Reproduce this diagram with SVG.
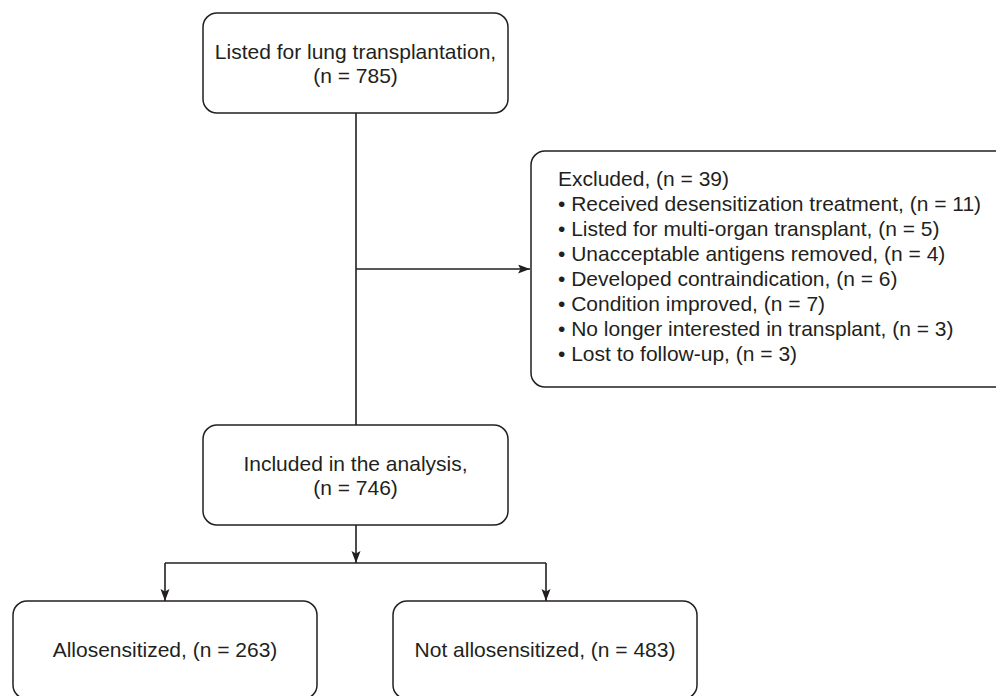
<svg xmlns="http://www.w3.org/2000/svg" width="996" height="696" viewBox="0 0 996 696">
<style>
.box{fill:#fff;stroke:#231f20;stroke-width:1.5}
.t{font-family:"Liberation Sans",Arial,sans-serif;font-size:21px;fill:#231f20}
.c{text-anchor:middle}
.ln{fill:none;stroke:#231f20;stroke-width:1.6}
</style>
<defs>
<marker id="ah" markerUnits="userSpaceOnUse" markerWidth="13" markerHeight="10" refX="12" refY="4.5" orient="auto">
<path d="M0,0 L12,4.5 L0,9 L2.5,4.5 z" fill="#231f20"/>
</marker>
</defs>
<rect width="996" height="696" fill="#fff"/>
<g id="connectors">
<line class="ln" x1="356" y1="113" x2="356" y2="425"/>
<line class="ln" x1="356" y1="269" x2="530" y2="269" marker-end="url(#ah)"/>
<line class="ln" x1="356" y1="525" x2="356" y2="563" marker-end="url(#ah)"/>
<line class="ln" x1="165" y1="563" x2="546" y2="563"/>
<line class="ln" x1="165" y1="563" x2="165" y2="601" marker-end="url(#ah)"/>
<line class="ln" x1="546" y1="563" x2="546" y2="601" marker-end="url(#ah)"/>
</g>
<g id="listed">
<rect class="box" x="203" y="13" width="305" height="100" rx="14"/>
<text class="t c" x="355.5" y="59">Listed for lung transplantation,</text>
<text class="t c" x="355.5" y="83">(n = 785)</text>
</g>
<g id="excluded">
<rect class="box" x="531" y="151" width="500" height="236" rx="14"/>
<text class="t" x="558" y="186">Excluded, (n = 39)</text>
<text class="t" x="558" y="211">• Received desensitization treatment, (n = 11)</text>
<text class="t" x="558" y="236">• Listed for multi-organ transplant, (n = 5)</text>
<text class="t" x="558" y="261">• Unacceptable antigens removed, (n = 4)</text>
<text class="t" x="558" y="286">• Developed contraindication, (n = 6)</text>
<text class="t" x="558" y="311">• Condition improved, (n = 7)</text>
<text class="t" x="558" y="336">• No longer interested in transplant, (n = 3)</text>
<text class="t" x="558" y="361">• Lost to follow-up, (n = 3)</text>
</g>
<g id="included">
<rect class="box" x="203" y="425" width="305" height="100" rx="14"/>
<text class="t c" x="355.5" y="471">Included in the analysis,</text>
<text class="t c" x="355.5" y="495">(n = 746)</text>
</g>
<g id="allosensitized">
<rect class="box" x="13" y="601" width="304" height="98" rx="14"/>
<text class="t c" x="165" y="657">Allosensitized, (n = 263)</text>
</g>
<g id="not-allosensitized">
<rect class="box" x="393" y="601" width="304" height="98" rx="14"/>
<text class="t c" x="545" y="657">Not allosensitized, (n = 483)</text>
</g>
</svg>
